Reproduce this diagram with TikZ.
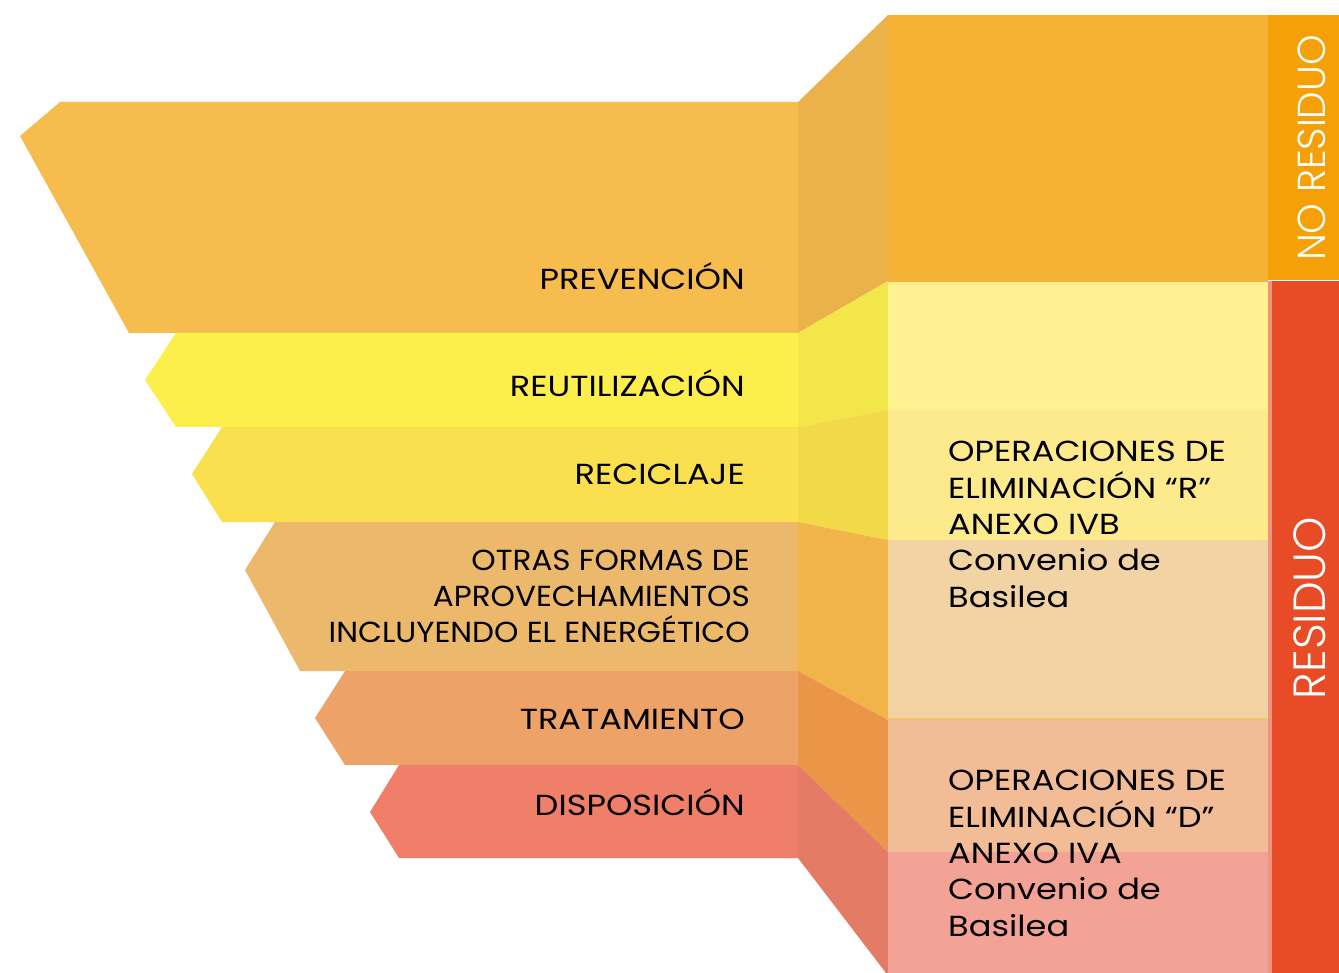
\documentclass[tikz,border=0pt]{standalone}
\usepackage{fontspec}
\setmainfont{Poppins}[FakeStretch=1.16]
\newfontfamily\narrowfont{Poppins}[FakeStretch=1.07]
\newfontfamily\barfont{Poppins Light}
\definecolor{prevmain}{HTML}{F6BC4E}
\definecolor{prevside}{HTML}{EBB24B}
\definecolor{prevpanel}{HTML}{F5B133}
\definecolor{reutmain}{HTML}{FDEF4B}
\definecolor{reutside}{HTML}{F2E64A}
\definecolor{reutpanel}{HTML}{FEF290}
\definecolor{recimain}{HTML}{FAE04E}
\definecolor{recside}{HTML}{F1D948}
\definecolor{recpanel}{HTML}{FCEA8C}
\definecolor{otrmain}{HTML}{EBB86C}
\definecolor{otrside}{HTML}{F0B448}
\definecolor{otrpanel}{HTML}{F2D4A4}
\definecolor{tramain}{HTML}{EDA268}
\definecolor{traside}{HTML}{EB9549}
\definecolor{trapanel}{HTML}{F2BD96}
\definecolor{dismain}{HTML}{EF7F68}
\definecolor{disside}{HTML}{E47B65}
\definecolor{dispanel}{HTML}{F3A395}
\definecolor{nores}{HTML}{F4A006}
\definecolor{res}{HTML}{E84C27}
\begin{document}
\begin{tikzpicture}[x=1pt,y=-1pt,
    lbl/.style={anchor=base east,inner sep=0,font=\fontsize{29}{35.7}\selectfont},
    ops/.style={anchor=base west,inner sep=0,align=left,font=\fontsize{29}{36.3}\selectfont},
    barlbl/.style={rotate=90,inner sep=0,text=white}]
  \useasboundingbox (0,0) rectangle (1339,973);
  % bands
  \fill[prevmain] (60,102) -- (20,136) -- (129,333) -- (798,333) -- (798,102) -- cycle;
  \fill[reutmain] (176,333) -- (145,380) -- (176,427) -- (798,427) -- (798,333) -- cycle;
  \fill[recimain] (222,427) -- (192,474) -- (222,522) -- (798,522) -- (798,427) -- cycle;
  \fill[otrmain] (275,522) -- (245,570) -- (300,671) -- (798,671) -- (798,522) -- cycle;
  \fill[tramain] (345,671) -- (315,718) -- (345,765) -- (798,765) -- (798,671) -- cycle;
  \fill[dismain] (399,765) -- (370,812) -- (399,858) -- (798,858) -- (798,765) -- cycle;
  % side faces
  \fill[prevside] (798,102) -- (888,15) -- (888,281) -- (798,333) -- cycle;
  \fill[reutside] (798,333) -- (888,281) -- (888,410) -- (798,427) -- cycle;
  \fill[recside] (798,427) -- (888,410) -- (888,540) -- (798,522) -- cycle;
  \fill[otrside] (798,522) -- (888,540) -- (888,720) -- (798,671) -- cycle;
  \fill[traside] (798,671) -- (888,720) -- (888,852) -- (798,765) -- cycle;
  \fill[disside] (798,765) -- (888,852) -- (888,973) -- (886,973) -- (798,858) -- cycle;
  % panels
  \fill[prevpanel] (888,15) rectangle (1268,281);
  \fill[reutpanel] (888,281) rectangle (1268,410);
  \fill[recpanel] (888,410) rectangle (1268,540);
  \fill[otrpanel] (888,540) rectangle (1268,720);
  \fill[trapanel] (888,720) rectangle (1268,852);
  \fill[dispanel] (888,852) rectangle (1268,973);
  \draw[line width=2,nores!80] (888,281) -- (1268,281);
  \draw[line width=2,otrside!80] (888,719) -- (1268,719);
  % bars
  \fill[nores] (1268,15) rectangle (1339,280);
  \fill[res!60!white] (1268,281) rectangle (1272,973);
  \fill[res] (1272,281) rectangle (1339,973);
  \node[barlbl,font=\barfont\fontsize{39}{44}\selectfont] (nores) at (1312,148) {NO RESIDUO};
  \node[barlbl,font=\barfont\fontsize{45}{50}\selectfont] (res) at (1310,608) {RESIDUO};
  % labels
  \node[lbl] (prev) at (745,290) {PREVENCIÓN};
  \node[lbl] (reut) at (745,397) {REUTILIZACIÓN};
  \node[lbl] (reci) at (745,484) {RECICLAJE};
  \node[lbl,align=right,font=\narrowfont\fontsize{29}{35.7}\selectfont] (otr) at (750,642) {OTRAS FORMAS DE\\APROVECHAMIENTOS\\INCLUYENDO EL ENERGÉTICO};
  \node[lbl] (trat) at (745,729) {TRATAMIENTO};
  \node[lbl] (disp) at (745,815) {DISPOSICIÓN};
  \node[ops] (opr) at (948,607) {OPERACIONES DE\\ELIMINACIÓN “R”\\ANEXO IVB\\Convenio de\\Basilea};
  \node[ops] (opd) at (948,936) {OPERACIONES DE\\ELIMINACIÓN “D”\\ANEXO IVA\\Convenio de\\Basilea};
\end{tikzpicture}
\end{document}
